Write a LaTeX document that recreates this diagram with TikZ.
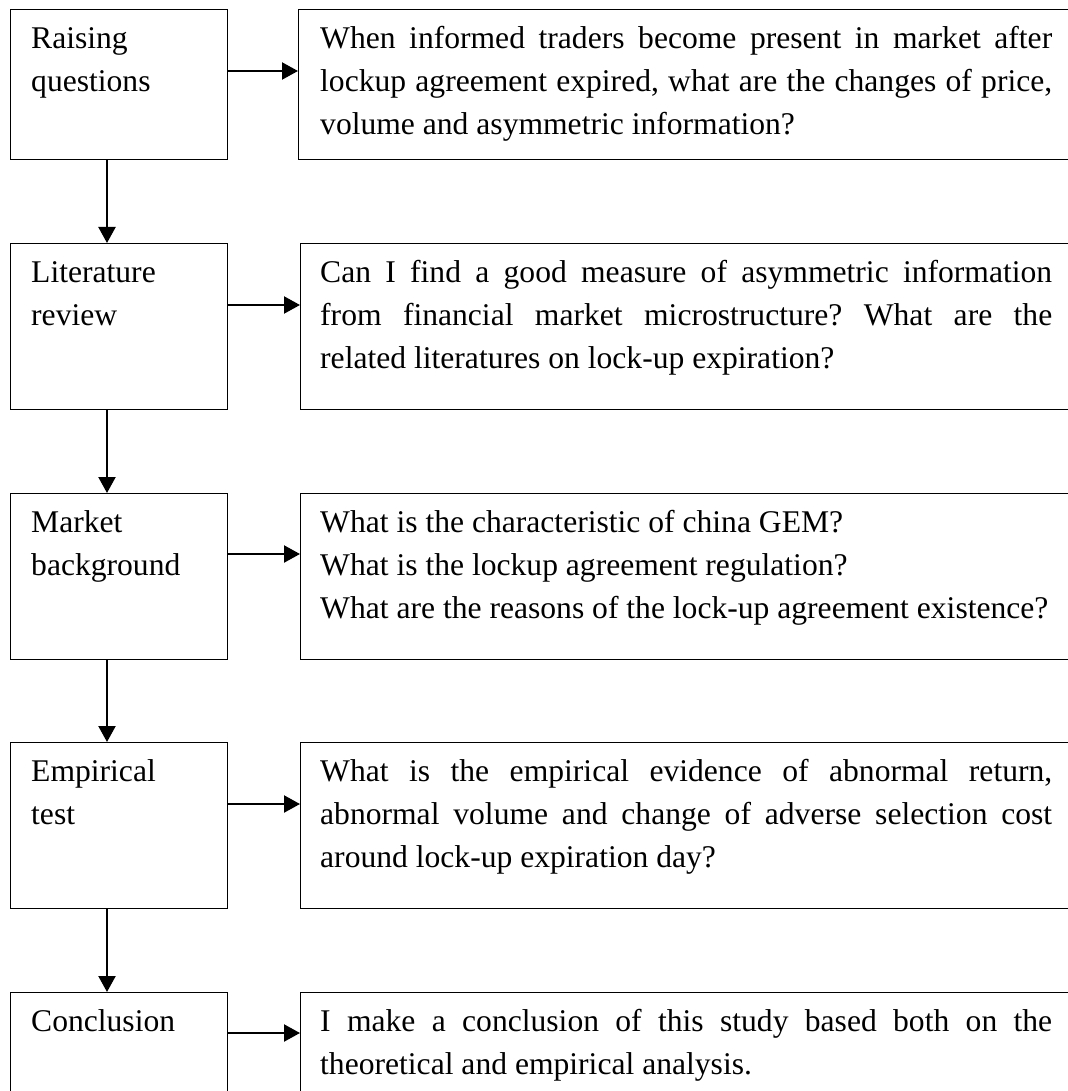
\documentclass[tikz,border=0pt]{standalone}
\usepackage{fontspec}
\setmainfont{Liberation Serif}
\usetikzlibrary{arrows.meta}
\frenchspacing
\newcommand{\jline}[1]{\makebox[732pt][s]{#1}}
\newcommand{\tblock}[1]{\parbox[t]{760pt}{\frenchspacing\raggedright #1}}
\begin{document}
\begin{tikzpicture}[x=1pt,y=-1pt,
  box/.style={draw=black,line width=1.3pt,rectangle,inner sep=0pt,anchor=north west},
  txt/.style={anchor=base west,inner sep=0pt,font=\fontsize{31.6}{43}\selectfont},
  conn/.style={line width=2.2pt,-{Triangle[length=16pt,width=17pt]}}]
\useasboundingbox (0,0) rectangle (1067,1091);
% left boxes
\node[box,minimum width=216.5pt,minimum height=150pt] (L1) at (10,9) {};
\node[box,minimum width=216.5pt,minimum height=166pt] (L2) at (10,243) {};
\node[box,minimum width=216.5pt,minimum height=166pt] (L3) at (10,493) {};
\node[box,minimum width=216.5pt,minimum height=166pt] (L4) at (10,742) {};
\node[box,minimum width=216.5pt,minimum height=166pt] (L5) at (10,992) {};
% right boxes
\node[box,minimum width=790pt,minimum height=150pt] (R1) at (298,9) {};
\node[box,minimum width=790pt,minimum height=166pt] (R2) at (300,243) {};
\node[box,minimum width=790pt,minimum height=166pt] (R3) at (300,493) {};
\node[box,minimum width=790pt,minimum height=166pt] (R4) at (300,742) {};
\node[box,minimum width=790pt,minimum height=166pt] (R5) at (300,992) {};
% left texts
\node[txt] (t1) at (31,49) {\tblock{Raising\\questions}};
\node[txt] (t2) at (31,282) {\tblock{Literature\\review}};
\node[txt] (t3) at (31,532) {\tblock{Market\\background}};
\node[txt] (t4) at (31,781) {\tblock{Empirical\\test}};
\node[txt] (t5) at (31,1031) {\tblock{Conclusion}};
% right texts
\node[txt] (s1) at (320,49) {\tblock{\jline{When informed traders become present in market after}\\\jline{lockup agreement expired, what are the changes of price,}\\volume and asymmetric information?}};
\node[txt] (s2) at (320,282) {\tblock{\jline{Can I find a good measure of asymmetric information}\\\jline{from financial market microstructure? What are the}\\related literatures on lock-up expiration?}};
\node[txt] (s3) at (320,532) {\tblock{What is the characteristic of china GEM?\\What is the lockup agreement regulation?\\What are the reasons of the lock-up agreement existence?}};
\node[txt] (s4) at (320,781) {\tblock{\jline{What is the empirical evidence of abnormal return,}\\\jline{abnormal volume and change of adverse selection cost}\\around lock-up expiration day?}};
\node[txt] (s5) at (320,1031) {\tblock{\jline{I make a conclusion of this study based both on the}\\theoretical and empirical analysis.}};
% horizontal arrows
\draw[conn] ([yshift=-62pt]L1.north east) -- ([yshift=-62pt]R1.north west);
\draw[conn] ([yshift=-62pt]L2.north east) -- ([yshift=-62pt]R2.north west);
\draw[conn] ([yshift=-61pt]L3.north east) -- ([yshift=-61pt]R3.north west);
\draw[conn] ([yshift=-62pt]L4.north east) -- ([yshift=-62pt]R4.north west);
\draw[conn] ([yshift=-41pt]L5.north east) -- ([yshift=-41pt]R5.north west);
% vertical arrows
\draw[conn] ([xshift=97pt]L1.south west) -- ([xshift=97pt]L2.north west);
\draw[conn] ([xshift=97pt]L2.south west) -- ([xshift=97pt]L3.north west);
\draw[conn] ([xshift=97pt]L3.south west) -- ([xshift=97pt]L4.north west);
\draw[conn] ([xshift=97pt]L4.south west) -- ([xshift=97pt]L5.north west);
\end{tikzpicture}
\end{document}
